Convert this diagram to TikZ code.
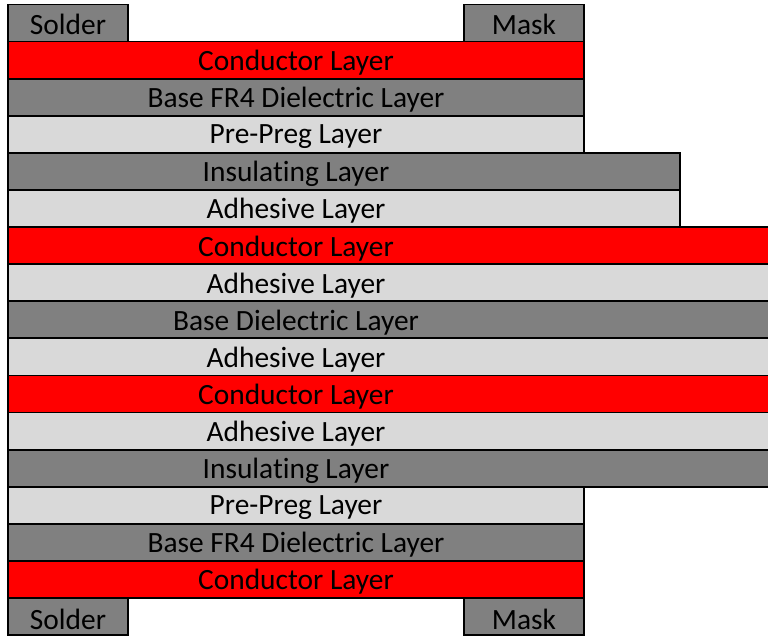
\documentclass[tikz,border=0pt]{standalone}
\usepackage{fontspec}
\setmainfont{Carlito}[Ligatures=NoCommon]
\definecolor{darkgrey}{RGB}{128,128,128}
\definecolor{lightgrey}{RGB}{217,217,217}
\definecolor{copper}{RGB}{255,0,0}

\begin{document}
\begin{tikzpicture}[x=0.5pt,y=-0.5pt]
    \tikzset{
        layer/.style={draw=black, line width=0.9pt},
        dark/.style={layer, fill=darkgrey},
        light/.style={layer, fill=lightgrey},
        cond/.style={layer, fill=copper},
        layertext/.style={font=\fontsize{14.7}{17}\selectfont, inner sep=0pt, yshift=-1.3pt},
    };
    \useasboundingbox (0,0) rectangle (768,636);

    % top solder mask
    \draw [dark] (8,4.5) rectangle (128,41.6);
    \draw [dark] (464,4.5) rectangle (584,41.6);
    \node [layertext] (solder1) at (68,22.05) {Solder};
    \node [layertext] (mask1) at (524,22.05) {Mask};

    % layers
    \draw [cond] (8,41.6) rectangle (584,78.7);
    \draw [dark] (8,78.7) rectangle (584,115.8);
    \draw [light] (8,115.8) rectangle (584,152.9);
    \draw [dark] (8,152.9) rectangle (680,190.0);
    \draw [light] (8,190.0) rectangle (680,227.1);
    \draw [cond] (8,227.1) rectangle (772,264.2);
    \draw [light] (8,264.2) rectangle (772,301.3);
    \draw [dark] (8,301.3) rectangle (772,338.4);
    \draw [light] (8,338.4) rectangle (772,375.5);
    \draw [cond] (8,375.5) rectangle (772,412.6);
    \draw [light] (8,412.6) rectangle (772,449.7);
    \draw [dark] (8,449.7) rectangle (772,486.8);
    \draw [light] (8,486.8) rectangle (584,523.9);
    \draw [dark] (8,523.9) rectangle (584,561.0);
    \draw [cond] (8,561.0) rectangle (584,598.1);

    \node [layertext] (cond1) at (296,60.15) {Conductor Layer};
    \node [layertext] (fr1) at (296,97.25) {Base FR4 Dielectric Layer};
    \node [layertext] (pp1) at (296,134.35) {Pre-Preg Layer};
    \node [layertext] (ins1) at (296,171.45) {Insulating Layer};
    \node [layertext] (adh1) at (296,208.55) {Adhesive Layer};
    \node [layertext] (cond2) at (296,245.65) {Conductor Layer};
    \node [layertext] (adh2) at (296,282.75) {Adhesive Layer};
    \node [layertext] (base) at (296,319.85) {Base Dielectric Layer};
    \node [layertext] (adh3) at (296,356.95) {Adhesive Layer};
    \node [layertext] (cond3) at (296,394.05) {Conductor Layer};
    \node [layertext] (adh4) at (296,431.15) {Adhesive Layer};
    \node [layertext] (ins2) at (296,468.25) {Insulating Layer};
    \node [layertext] (pp2) at (296,505.35) {Pre-Preg Layer};
    \node [layertext] (fr2) at (296,542.45) {Base FR4 Dielectric Layer};
    \node [layertext] (cond4) at (296,579.55) {Conductor Layer};

    % bottom solder mask
    \draw [dark] (8,598.1) rectangle (128,635.2);
    \draw [dark] (464,598.1) rectangle (584,635.2);
    \node [layertext] (solder2) at (68,616.65) {Solder};
    \node [layertext] (mask2) at (524,616.65) {Mask};
\end{tikzpicture}
\end{document}
